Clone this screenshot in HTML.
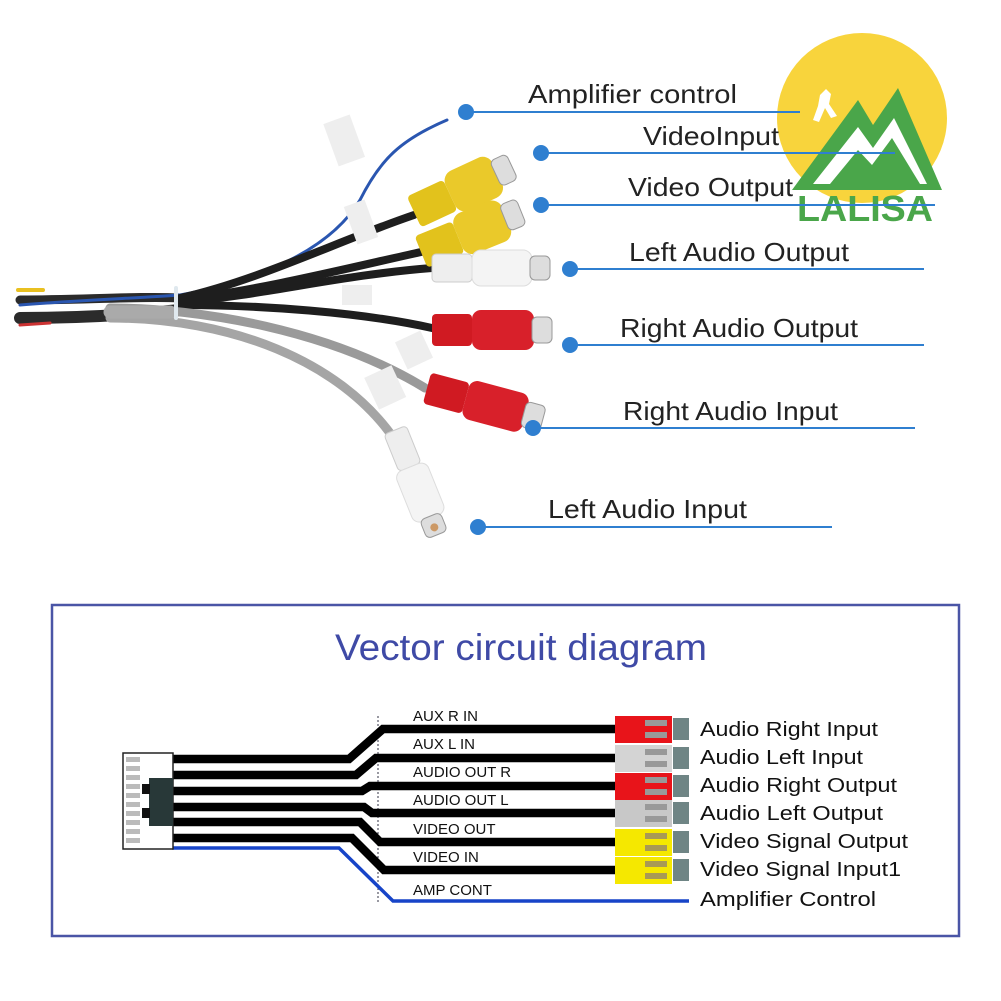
<!DOCTYPE html>
<html><head><meta charset="utf-8"><style>
html,body{margin:0;padding:0;background:#fff}
svg{display:block}
text{font-family:"Liberation Sans",Arial,sans-serif}
</style></head><body>
<svg width="1001" height="1001" viewBox="0 0 1001 1001" xmlns="http://www.w3.org/2000/svg">
<rect width="1001" height="1001" fill="#fff"/>
<!-- logo -->
<circle cx="862" cy="118" r="85" fill="#f8d43c"/>
<path d="M820 95 l6 -6 l5 5 l-2 10 l8 12 l-6 2 l-6 -10 l-6 14 l-6 -2 l5 -14 z" fill="#fff"/>
<polygon points="792,190 858,100 873,125 898,88 942,190" fill="#4aa64a"/>
<polygon points="813,184 858,127 873,148 894,118 927,184" fill="#fff"/>
<polygon points="830,184 858,150 872,165 892,138 920,184" fill="#4aa64a"/>
<text x="797" y="221" font-size="36" font-weight="bold" fill="#4aa64a" textLength="136" lengthAdjust="spacingAndGlyphs">LALISA</text>

<!-- cable photo -->
<g fill="none" stroke-linecap="round">
 <path d="M20 300 C80 300 140 296 180 298" stroke="#2b2b2b" stroke-width="9"/>
 <path d="M20 318 C80 318 140 314 180 310" stroke="#2b2b2b" stroke-width="12"/>
 <path d="M18 290 l25 0" stroke="#e9c020" stroke-width="4"/>
 <path d="M20 325 l30 -2" stroke="#c33" stroke-width="3"/>
 <path d="M20 305 C80 300 140 298 180 295" stroke="#2a56b0" stroke-width="3"/>
 <path d="M180 295 C260 280 330 250 360 200 C380 160 400 140 447 120" stroke="#2a56b0" stroke-width="3"/>
 <path d="M180 298 C260 280 340 240 414 215" stroke="#1e1e1e" stroke-width="8"/>
 <path d="M180 300 C260 290 340 270 421 252" stroke="#1e1e1e" stroke-width="8"/>
 <path d="M180 302 C260 296 340 275 432 268" stroke="#1e1e1e" stroke-width="8"/>
 <path d="M180 305 C260 305 360 312 432 328" stroke="#1e1e1e" stroke-width="8"/>
 <path d="M110 308 C200 308 330 330 425 388" stroke="#9a9a9a" stroke-width="9"/>
 <path d="M110 318 C230 318 340 360 395 440" stroke="#a5a5a5" stroke-width="9"/>
 <path d="M110 312 l60 0" stroke="#aaa" stroke-width="13"/>
 <path d="M176 288 l0 30" stroke="#dfe8ee" stroke-width="4"/>
</g>
<rect x="330" y="118" width="28" height="45" fill="#eee" transform="rotate(-20 344 140)"/>
<rect x="350" y="202" width="22" height="40" fill="#eee" transform="rotate(-20 361 222)"/>
<rect x="342" y="285" width="30" height="20" fill="#eee"/>
<rect x="400" y="335" width="28" height="30" fill="#eee" transform="rotate(-25 414 350)"/>
<rect x="370" y="370" width="30" height="35" fill="#eee" transform="rotate(-25 385 387)"/>
<g transform="translate(414,212) rotate(-25)">
 <rect x="0" y="-17" width="40" height="34" rx="4" fill="#e2c21c"/><rect x="40" y="-22" width="52" height="44" rx="11" fill="#eac92a"/><rect x="90" y="-14" width="18" height="28" rx="5" fill="#ddd" stroke="#999"/>
</g>
<g transform="translate(421,252) rotate(-22)">
 <rect x="0" y="-17" width="40" height="34" rx="4" fill="#e2c21c"/><rect x="40" y="-22" width="52" height="44" rx="11" fill="#eac92a"/><rect x="90" y="-14" width="18" height="28" rx="5" fill="#ddd" stroke="#999"/>
</g>
<g transform="translate(432,268)">
 <rect x="0" y="-14" width="40" height="28" rx="4" fill="#eee" stroke="#ccc"/><rect x="40" y="-18" width="60" height="36" rx="9" fill="#f4f4f4" stroke="#ddd"/><rect x="98" y="-12" width="20" height="24" rx="5" fill="#ddd" stroke="#999"/>
</g>
<g transform="translate(432,330)">
 <rect x="0" y="-16" width="40" height="32" rx="4" fill="#d01a22"/><rect x="40" y="-20" width="62" height="40" rx="9" fill="#d8202a"/><rect x="100" y="-13" width="20" height="26" rx="5" fill="#ddd" stroke="#999"/>
</g>
<g transform="translate(427,388) rotate(15)">
 <rect x="0" y="-16" width="40" height="32" rx="4" fill="#d01a22"/><rect x="40" y="-20" width="62" height="40" rx="9" fill="#d8202a"/><rect x="100" y="-13" width="20" height="26" rx="5" fill="#ddd" stroke="#999"/>
</g>
<g transform="translate(395,430) rotate(68)">
 <rect x="0" y="-12" width="40" height="24" rx="4" fill="#eee" stroke="#ccc"/><rect x="40" y="-17" width="55" height="34" rx="8" fill="#f4f4f4" stroke="#ddd"/><rect x="93" y="-11" width="20" height="22" rx="5" fill="#ddd" stroke="#999"/><circle cx="105" cy="0" r="4" fill="#c96"/>
</g>

<!-- callouts -->
<g stroke="#2f7fd0" stroke-width="2">
 <line x1="466" y1="112" x2="800" y2="112"/>
 <line x1="541" y1="153" x2="895" y2="153"/>
 <line x1="541" y1="205" x2="935" y2="205"/>
 <line x1="570" y1="269" x2="924" y2="269"/>
 <line x1="570" y1="345" x2="924" y2="345"/>
 <line x1="533" y1="428" x2="915" y2="428"/>
 <line x1="478" y1="527" x2="832" y2="527"/>
</g>
<g fill="#2f7fd0">
 <circle cx="466" cy="112" r="8"/><circle cx="541" cy="153" r="8"/><circle cx="541" cy="205" r="8"/>
 <circle cx="570" cy="269" r="8"/><circle cx="570" cy="345" r="8"/><circle cx="533" cy="428" r="8"/><circle cx="478" cy="527" r="8"/>
</g>
<g font-size="26" fill="#222">
 <text x="528" y="103" textLength="209" lengthAdjust="spacingAndGlyphs">Amplifier control</text>
 <text x="643" y="145" textLength="136" lengthAdjust="spacingAndGlyphs">VideoInput</text>
 <text x="628" y="196" textLength="165" lengthAdjust="spacingAndGlyphs">Video Output</text>
 <text x="629" y="261" textLength="220" lengthAdjust="spacingAndGlyphs">Left Audio Output</text>
 <text x="620" y="337" textLength="238" lengthAdjust="spacingAndGlyphs">Right Audio Output</text>
 <text x="623" y="420" textLength="215" lengthAdjust="spacingAndGlyphs">Right Audio Input</text>
 <text x="548" y="518" textLength="199" lengthAdjust="spacingAndGlyphs">Left Audio Input</text>
</g>

<!-- lower diagram -->
<rect x="52" y="605" width="907" height="331" fill="none" stroke="#4a55a6" stroke-width="2.5"/>
<text x="335" y="660" font-size="37" fill="#3f4aa6" textLength="372" lengthAdjust="spacingAndGlyphs">Vector circuit diagram</text>
<line x1="378" y1="716" x2="378" y2="902" stroke="#334" stroke-width="1" stroke-dasharray="2,2"/>
<g fill="none" stroke="#000" stroke-width="8.5">
 <path d="M172 759 L349 759 L383 729 L615 729"/>
 <path d="M172 775 L356 775 L376 758 L615 758"/>
 <path d="M172 791 L362 791 L370 786 L615 786"/>
 <path d="M172 807 L364 807 L372 813 L615 813"/>
 <path d="M172 822 L360 822 L380 842 L615 842"/>
 <path d="M172 838 L352 838 L384 870 L615 870"/>
</g>
<path d="M172 848 L339 848 L393 901 L689 901" fill="none" stroke="#1744c8" stroke-width="3.5"/>
<rect x="123" y="753" width="50" height="96" fill="#fff" stroke="#222" stroke-width="1.5"/>
<g fill="#bbb"><rect x="126" y="757" width="14" height="5"/><rect x="126" y="766" width="14" height="5"/><rect x="126" y="775" width="14" height="5"/><rect x="126" y="784" width="14" height="5"/><rect x="126" y="793" width="14" height="5"/><rect x="126" y="802" width="14" height="5"/><rect x="126" y="811" width="14" height="5"/><rect x="126" y="820" width="14" height="5"/><rect x="126" y="829" width="14" height="5"/><rect x="126" y="838" width="14" height="5"/></g>
<rect x="149" y="778" width="24" height="48" fill="#283838"/>
<rect x="142" y="784" width="8" height="10" fill="#111"/><rect x="142" y="808" width="8" height="10" fill="#111"/>
<g>
 <g transform="translate(0,729)"><rect x="615" y="-13" width="57" height="27" fill="#e8141a"/><rect x="645" y="-9" width="22" height="6" fill="#999"/><rect x="645" y="3" width="22" height="6" fill="#999"/><rect x="673" y="-11" width="16" height="22" fill="#6f8585"/></g>
 <g transform="translate(0,758)"><rect x="615" y="-13" width="57" height="27" fill="#d4d4d4"/><rect x="645" y="-9" width="22" height="6" fill="#999"/><rect x="645" y="3" width="22" height="6" fill="#999"/><rect x="673" y="-11" width="16" height="22" fill="#6f8585"/></g>
 <g transform="translate(0,786)"><rect x="615" y="-13" width="57" height="27" fill="#e8141a"/><rect x="645" y="-9" width="22" height="6" fill="#999"/><rect x="645" y="3" width="22" height="6" fill="#999"/><rect x="673" y="-11" width="16" height="22" fill="#6f8585"/></g>
 <g transform="translate(0,813)"><rect x="615" y="-13" width="57" height="27" fill="#c8c8c8"/><rect x="645" y="-9" width="22" height="6" fill="#999"/><rect x="645" y="3" width="22" height="6" fill="#999"/><rect x="673" y="-11" width="16" height="22" fill="#6f8585"/></g>
 <g transform="translate(0,842)"><rect x="615" y="-13" width="57" height="27" fill="#f5e800"/><rect x="645" y="-9" width="22" height="6" fill="#a89a55"/><rect x="645" y="3" width="22" height="6" fill="#a89a55"/><rect x="673" y="-11" width="16" height="22" fill="#6f8585"/></g>
 <g transform="translate(0,870)"><rect x="615" y="-13" width="57" height="27" fill="#f5e800"/><rect x="645" y="-9" width="22" height="6" fill="#a89a55"/><rect x="645" y="3" width="22" height="6" fill="#a89a55"/><rect x="673" y="-11" width="16" height="22" fill="#6f8585"/></g>
</g>
<g font-size="15" fill="#111">
 <text x="413" y="721">AUX R IN</text>
 <text x="413" y="749">AUX L IN</text>
 <text x="413" y="777">AUDIO OUT R</text>
 <text x="413" y="805">AUDIO OUT L</text>
 <text x="413" y="834">VIDEO OUT</text>
 <text x="413" y="862">VIDEO IN</text>
 <text x="413" y="895">AMP CONT</text>
</g>
<g font-size="20" fill="#111">
 <text x="700" y="736" textLength="178" lengthAdjust="spacingAndGlyphs">Audio Right Input</text>
 <text x="700" y="764" textLength="163" lengthAdjust="spacingAndGlyphs">Audio Left Input</text>
 <text x="700" y="792" textLength="197" lengthAdjust="spacingAndGlyphs">Audio Right Output</text>
 <text x="700" y="820" textLength="183" lengthAdjust="spacingAndGlyphs">Audio Left Output</text>
 <text x="700" y="848" textLength="208" lengthAdjust="spacingAndGlyphs">Video Signal Output</text>
 <text x="700" y="876" textLength="201" lengthAdjust="spacingAndGlyphs">Video Signal Input1</text>
 <text x="700" y="906" textLength="176" lengthAdjust="spacingAndGlyphs">Amplifier Control</text>
</g>
</svg>
</body></html>
